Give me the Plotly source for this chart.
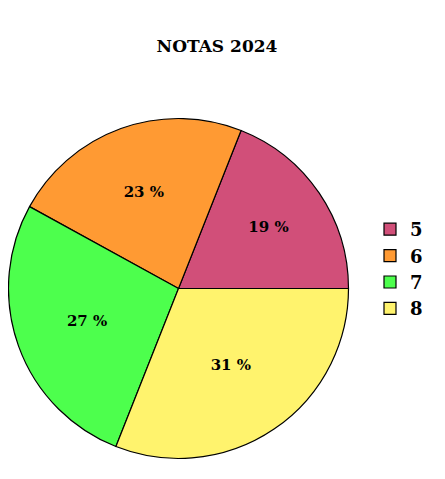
import plotly.graph_objects as go

categories = ["5", "6", "7", "8"]
values = [19, 23, 27, 31]
colors = ["#D14F79", "#FF9A33", "#4DFF4D", "#FFF36D"]

total = sum(values)
texts = [f"<b>{round(v / total * 100)} %</b>" for v in values]

W, H = 445, 479
OFF = 8  # page body margin
cx, cy, r = 178.5 - OFF, 288.5 - OFF, 170
FONT = "DejaVu Serif"

fig = go.Figure(go.Pie(
    labels=[f"<b>{c}</b>" for c in categories],
    values=values,
    text=texts,
    textinfo="text",
    textposition="inside",
    insidetextorientation="horizontal",
    sort=False,
    direction="counterclockwise",
    rotation=90 - 360 * values[0] / total,
    marker=dict(colors=colors, line=dict(color="black", width=1.2)),
    textfont=dict(family=FONT, size=15, color="black"),
    domain=dict(x=[(cx - r) / W, (cx + r) / W], y=[(H - cy - r) / H, (H - cy + r) / H]),
    hoverinfo="skip",
))

fig.update_layout(
    width=W, height=H,
    margin=dict(l=0, r=0, t=0, b=0),
    paper_bgcolor="white",
    font=dict(family=FONT, color="black"),
    title=dict(text="<b>NOTAS 2024</b>", x=(217 - OFF) / W, xanchor="center", y=1 - (46 - OFF) / H,
               yanchor="middle", font=dict(family=FONT, size=17, color="black")),
    legend=dict(orientation="v", x=362 / W, xanchor="left", y=1 - 261 / H, yanchor="middle",
                font=dict(family=FONT, size=18, color="black")),
    uniformtext=dict(minsize=10, mode="show"),
)

fig.write_html("out.html")
